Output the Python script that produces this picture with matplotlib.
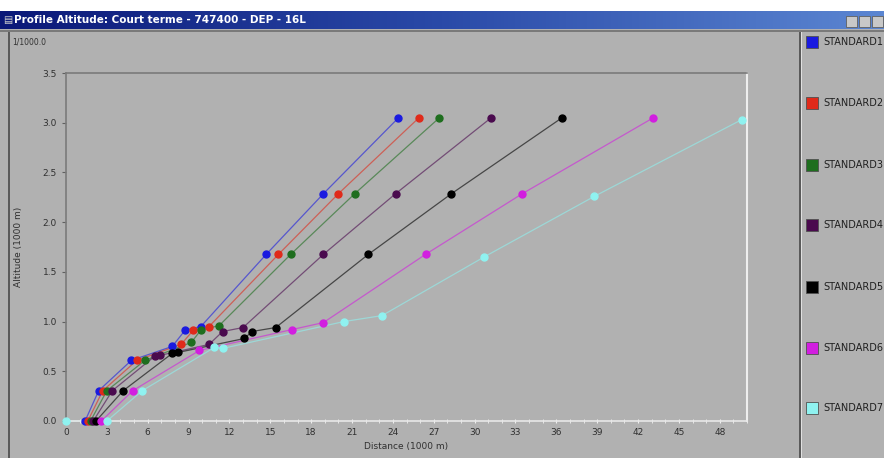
import matplotlib.pyplot as plt
import numpy as np
from matplotlib.colors import LinearSegmentedColormap
from matplotlib.patches import Rectangle

# ------------------------------------------------------------------
# Data (distance in 1000 m, altitude in 1000 m)
# ------------------------------------------------------------------
names = ["STANDARD1", "STANDARD2", "STANDARD3", "STANDARD4",
         "STANDARD5", "STANDARD6", "STANDARD7"]
colors = ["#1a1ae0", "#e02a1a", "#1e6e1e", "#4a0a4e",
          "#000000", "#d21ee0", "#8ff2f0"]

dist1 = [1.4, 2.4, 4.8, 7.8, 8.75, 9.9, 14.7, 18.9, 24.4]
alt1 = [0.0, 0.305, 0.61, 0.75, 0.914, 0.95, 1.676, 2.286, 3.048]

dist2 = [1.6, 2.7, 5.2, 8.45, 9.35, 10.5, 15.6, 20.0, 25.9]
alt2 = [0.0, 0.305, 0.61, 0.77, 0.914, 0.95, 1.676, 2.286, 3.048]

dist3 = [1.8, 3.0, 5.8, 9.2, 9.9, 11.25, 16.5, 21.2, 27.4]
alt3 = [0.0, 0.305, 0.61, 0.79, 0.914, 0.96, 1.676, 2.286, 3.048]

dist4 = [2.0, 3.4, 6.5, 6.9, 10.5, 11.5, 13.0, 18.9, 24.2, 31.2]
alt4 = [0.0, 0.305, 0.65, 0.66, 0.77, 0.9, 0.94, 1.676, 2.286, 3.048]

dist5 = [2.2, 4.2, 7.8, 8.25, 13.1, 13.65, 15.4, 22.2, 28.3, 36.4]
alt5 = [0.0, 0.305, 0.68, 0.69, 0.83, 0.9, 0.94, 1.676, 2.286, 3.048]

dist6 = [2.6, 4.9, 9.8, 16.6, 18.9, 26.4, 33.5, 43.1]
alt6 = [0.0, 0.305, 0.71, 0.92, 0.99, 1.676, 2.286, 3.048]

dist7 = [0.0, 3.0, 5.6, 10.9, 11.5, 20.4, 23.2, 30.7, 38.8, 49.6]
alt7 = [0.0, 0.0, 0.305, 0.74, 0.73, 1.0, 1.06, 1.65, 2.26, 3.03]

series = [(dist1, alt1), (dist2, alt2), (dist3, alt3), (dist4, alt4),
          (dist5, alt5), (dist6, alt6), (dist7, alt7)]

x_ticks = list(range(0, 49, 3))
y_ticks = [0.0, 0.5, 1.0, 1.5, 2.0, 2.5, 3.0, 3.5]

W, H = 884, 458
BG = "#b1b1b1"


def px_box(x0, y0, x1, y1):
    """pixel box (top-left origin) -> figure fraction [l, b, w, h]"""
    return [x0 / W, 1 - y1 / H, (x1 - x0) / W, (y1 - y0) / H]


fig = plt.figure(figsize=(W / 100, H / 100), dpi=100)
fig.patch.set_facecolor(BG)

# ------------------------------------------------------------------
# Window chrome
# ------------------------------------------------------------------
fig.patches.append(Rectangle((0, 1 - 11 / H), 1, 11 / H, transform=fig.transFigure,
                             facecolor="white", edgecolor="none", zorder=0))

ax_title = fig.add_axes(px_box(0, 11, W, 29))
grad = np.linspace(0, 1, 256).reshape(1, -1)
cmap = LinearSegmentedColormap.from_list("tb", ["#0b1878", "#2a4aa8", "#5b86d2"])
ax_title.imshow(grad, aspect="auto", cmap=cmap, extent=[0, 1, 0, 1])
ax_title.axis("off")

fig.text(3 / W, 1 - 20 / H, "\u25A4", color="#d0d0d0", fontsize=7, va="center")
fig.text(14 / W, 1 - 20 / H, "Profile Altitude: Court terme - 747400 - DEP - 16L",
         color="white", fontsize=7.5, fontweight="bold", va="center")

for bx in [846, 859, 872]:
    fig.patches.append(Rectangle((bx / W, 1 - 27 / H), 11 / W, 11 / H,
                                 transform=fig.transFigure, facecolor="#c8c8c8",
                                 edgecolor="#606060", lw=0.6, zorder=3))

# separator under title bar, left border, legend divider
fig.patches.append(Rectangle((0, 1 - 32 / H), 1, 2 / H, transform=fig.transFigure,
                             facecolor="#7a7a7a", edgecolor="none", zorder=1))
fig.patches.append(Rectangle((8 / W, 0), 2 / W, 1 - 32 / H, transform=fig.transFigure,
                             facecolor="#5a5a5a", edgecolor="none", zorder=1))
fig.patches.append(Rectangle((799 / W, 0), 2 / W, 1 - 32 / H, transform=fig.transFigure,
                             facecolor="#5a5a5a", edgecolor="none", zorder=1))
fig.patches.append(Rectangle((801 / W, 0), 1 / W, 1 - 32 / H, transform=fig.transFigure,
                             facecolor="#e0e0e0", edgecolor="none", zorder=1))

fig.text(12 / W, 1 - 42 / H, "1/1000.0", color="#303030", fontsize=5.5, va="center")

# ------------------------------------------------------------------
# Plot
# ------------------------------------------------------------------
ax = fig.add_axes(px_box(66, 73, 747, 421))
ax.set_facecolor(BG)

for (d, a), c in zip(series, colors):
    ax.plot(d, a, color=c, lw=0.9, alpha=0.6, zorder=2, clip_on=False)
    ax.plot(d, a, linestyle="none", marker="o", markersize=5,
            markerfacecolor=c, markeredgecolor=c, zorder=3, clip_on=False)

ax.set_xlim(0, 50)
ax.set_ylim(0, 3.5)
ax.set_xticks(x_ticks)
ax.set_xticklabels([str(t) for t in x_ticks])
ax.set_yticks(y_ticks)
ax.set_yticklabels([f"{t:.1f}" for t in y_ticks])
ax.set_xticks(np.arange(0, 50.1, 1), minor=True)

ax.tick_params(axis="both", labelsize=6.5, labelcolor="#303030", colors="#606060",
               length=3, width=0.8, direction="out")
ax.tick_params(axis="x", which="both", colors="#f0f0f0", labelcolor="#303030",
               direction="inout", length=3)

for side in ["left", "top"]:
    ax.spines[side].set_color("#7a7a7a")
    ax.spines[side].set_linewidth(1.2)
ax.spines["right"].set_color("#eeeeee")
ax.spines["right"].set_linewidth(1.5)
ax.spines["bottom"].set_color("#e8e8e8")
ax.spines["bottom"].set_linewidth(1.2)

ax.set_xlabel("Distance (1000 m)", fontsize=6.5, color="#303030", labelpad=4)
ax.set_ylabel("Altitude (1000 m)", fontsize=6.5, color="#303030", labelpad=14)

# ------------------------------------------------------------------
# Legend panel
# ------------------------------------------------------------------
legend_y = [42, 103, 165, 225, 287, 348, 408]
for name, c, ly in zip(names, colors, legend_y):
    fig.patches.append(Rectangle((806 / W, 1 - (ly + 6) / H), 12 / W, 12 / H,
                                 transform=fig.transFigure, facecolor=c,
                                 edgecolor="#505050", lw=0.6, zorder=3))
    fig.text(823 / W, 1 - ly / H, name, color="#202020", fontsize=7, va="center")

fig.savefig("out.png", dpi=100, facecolor=fig.get_facecolor())
